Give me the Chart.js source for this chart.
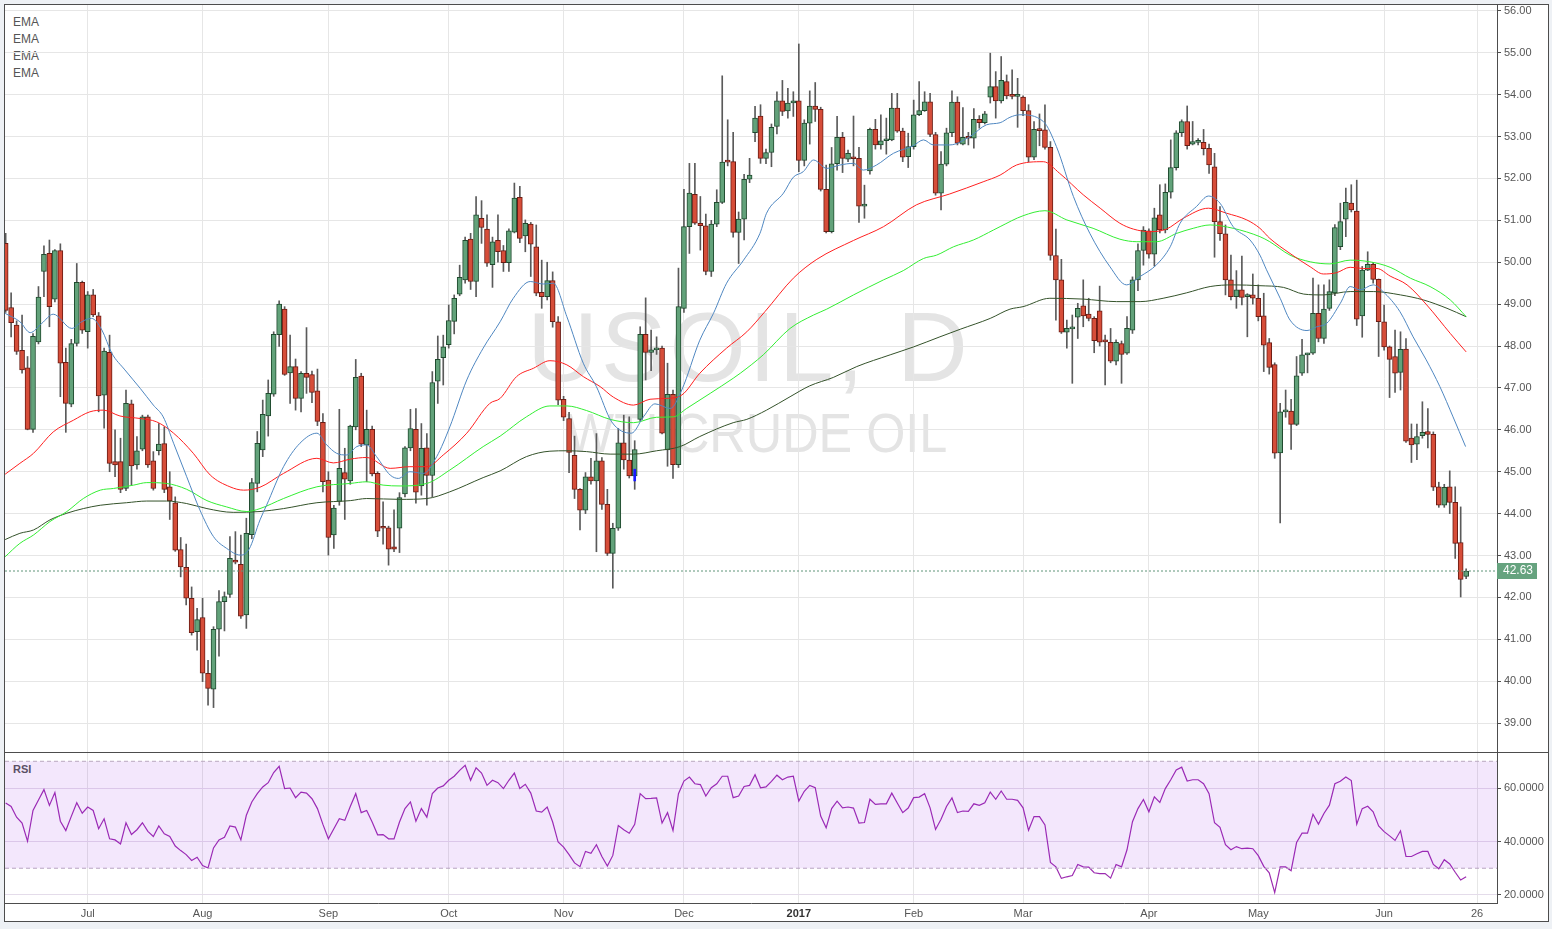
<!DOCTYPE html>
<html>
<head>
<meta charset="utf-8">
<script src="https://cdn.jsdelivr.net/npm/chart.js@4/dist/chart.umd.min.js"></script>
<style>
  html, body { margin: 0; padding: 0; background: #eef1f5; }
  #frame { position: absolute; left: 4px; top: 4px; width: 1545px; height: 918px; box-sizing: border-box; border: 1px solid #4d4d4d; background: #fff; }
  #mainBox { position: absolute; left: 0; top: 0; width: 1543px; height: 747px; }
  #sep { position: absolute; left: 0; top: 747px; width: 1543px; height: 1px; background: #4d4d4d; }
  #rsiBox { position: absolute; left: 0; top: 748px; width: 1543px; height: 168px; }
  .lbl { position: absolute; font: 12px "Liberation Sans", Arial, sans-serif; color: #555; line-height: 17px; }
  .wm { position: absolute; font-family: "Liberation Sans", Arial, sans-serif; color: #e4e4e4; white-space: nowrap; text-align: center; }
  canvas { position: relative; }
</style>
</head>
<body>
<div id="frame">
  <div id="mainBox">
    <div class="wm" style="left:344px; top:292px; width:800px; font-size:98px; line-height:100px; letter-spacing:3px;">USOIL, D</div>
    <div class="wm" style="left:352px; top:398px; width:800px; font-size:56px; line-height:60px; transform:scaleX(0.9);">WTI CRUDE OIL</div>
    <div class="lbl" style="left:8px; top:9px;">EMA<br>EMA<br>EMA<br>EMA</div>
    <canvas id="mainChart"></canvas>
  </div>
  <div id="sep"></div>
  <div id="rsiBox">
    <div class="lbl" style="left:8px; top:8px; font-size:11px; font-weight:bold;">RSI</div>
    <canvas id="rsiChart"></canvas>
  </div>
</div>
<script>
// daily candles, USOIL, 10 Jun 2016 .. 22 Jun 2017 (index = trading day)
const opens = [50.45,48.92,48.50,47.90,47.48,46.01,48.10,49.78,50.21,49.12,
50.28,47.61,46.61,48.06,49.52,48.34,49.22,48.72,46.83,47.85,
45.24,45.24,44.60,46.62,45.16,45.54,46.31,45.26,45.50,45.67,
44.64,44.26,43.14,42.72,41.98,41.18,41.52,40.19,39.81,41.24,
41.90,42.07,42.89,42.79,41.58,43.50,44.72,45.52,46.33,46.85,
48.27,48.88,47.36,47.51,46.75,47.35,47.32,46.93,46.18,44.80,
43.49,44.29,44.98,44.78,46.07,47.28,45.64,46.01,44.96,43.66,
43.66,43.21,43.65,44.47,45.57,46.01,44.66,45.57,44.91,47.16,
47.72,48.03,48.59,49.24,49.58,50.55,49.54,51.05,50.79,49.94,
50.52,50.28,49.99,50.72,51.55,50.63,50.91,50.37,49.28,49.18,
49.56,48.58,46.73,46.27,45.39,44.58,44.08,44.88,44.78,45.26,
44.22,43.05,43.65,45.69,45.28,44.90,46.25,48.28,47.85,47.91,
47.95,45.52,46.85,45.17,48.90,50.85,51.62,50.93,50.87,49.78,
50.91,51.43,52.40,52.40,50.71,51.03,51.98,53.09,53.49,52.48,
52.62,53.24,53.85,53.61,53.80,53.85,52.43,53.32,53.73,53.65,
51.74,50.73,52.35,52.98,52.46,52.51,52.48,51.34,52.18,53.17,
52.80,52.90,52.92,53.68,53.13,52.52,52.76,53.52,53.62,53.83,
53.05,51.65,52.34,53.09,53.82,52.82,52.98,52.96,53.41,53.33,
53.94,54.19,53.85,54.31,53.98,53.96,53.94,53.62,52.51,53.17,
53.16,52.74,50.16,49.58,48.33,48.41,48.69,48.96,48.76,48.66,
48.84,48.12,48.09,47.64,48.06,47.83,48.38,49.58,50.28,50.75,
50.19,51.13,50.77,51.67,52.26,53.09,53.36,52.82,52.86,52.86,
52.72,52.28,50.97,50.68,49.58,49.18,49.34,49.18,49.22,49.14,
48.72,48.08,47.56,45.45,46.43,46.45,46.13,47.35,47.79,47.83,
48.78,48.18,48.90,49.27,50.37,51.03,51.41,51.22,48.72,49.81,
49.95,49.59,48.58,47.98,47.75,47.37,47.93,45.80,45.66,45.86,
45.96,45.89,44.64,44.20,44.64,44.27,43.31,42.50];

const highs = [50.69,49.27,48.60,48.74,47.75,48.30,49.42,50.39,50.53,50.30,
50.44,47.95,48.16,49.97,49.55,49.30,49.35,48.80,47.95,48.26,
46.00,45.80,46.95,46.71,45.84,46.35,46.35,45.48,46.15,46.07,
45.00,44.40,43.43,43.27,42.25,41.74,41.98,40.50,41.30,42.16,
42.13,43.45,43.57,43.49,43.89,44.84,45.96,46.71,47.19,48.34,
49.08,48.94,48.26,47.69,47.39,48.44,47.40,47.45,46.39,45.00,
44.20,46.49,45.56,46.11,47.68,47.35,46.47,46.09,45.00,44.28,
43.70,44.09,44.50,45.60,46.49,46.51,46.15,45.91,47.39,48.24,
48.26,48.98,49.22,49.93,50.60,50.69,51.57,51.47,51.13,50.60,
51.13,50.40,50.80,51.89,51.81,51.01,50.95,50.89,50.05,50.00,
49.77,48.70,46.80,46.42,45.85,44.60,44.98,45.32,45.91,45.34,
44.58,43.77,46.03,46.35,46.31,45.74,48.46,49.15,48.38,48.22,
48.00,47.59,46.95,49.86,51.74,52.36,52.36,51.57,51.15,51.00,
51.73,54.45,53.40,53.10,51.20,52.10,52.48,53.72,53.76,52.70,
53.30,54.07,54.34,54.15,54.07,55.21,53.40,54.09,54.29,53.70,
52.32,52.74,53.48,53.10,52.68,53.49,52.74,51.84,53.20,53.41,
53.52,53.44,54.03,54.03,53.20,53.08,53.87,54.31,54.07,54.03,
53.10,52.64,53.20,54.09,53.95,53.69,53.10,53.67,53.50,53.60,
54.99,54.55,54.91,54.47,54.59,54.39,53.97,53.76,53.36,53.54,
53.76,52.88,50.79,50.07,48.62,48.74,49.02,49.58,49.14,48.70,
49.43,48.26,48.42,48.15,48.12,48.70,49.65,50.44,50.85,50.80,
51.29,51.85,51.87,52.92,53.14,53.40,53.73,53.36,52.95,53.17,
52.82,52.60,51.33,50.89,50.17,49.80,50.15,49.25,49.72,49.46,
49.26,48.18,47.60,46.63,46.95,46.73,47.75,48.16,47.83,49.62,
49.46,49.46,49.58,50.90,51.41,51.77,51.85,51.96,49.90,50.25,
50.00,49.60,48.98,48.00,48.38,48.34,48.18,46.14,46.14,46.67,
46.51,45.95,44.75,44.70,45.02,44.64,44.16,42.68];

const lows = [48.80,48.22,47.80,47.35,46.00,45.94,48.05,49.18,48.46,49.05,
46.79,45.94,46.55,48.00,48.30,47.95,48.70,46.43,46.04,45.00,
44.88,44.50,44.55,44.68,45.06,45.50,45.10,44.56,45.40,44.50,
43.86,43.10,42.49,41.82,41.10,40.74,39.99,39.43,39.37,40.60,
41.20,42.00,42.80,41.50,41.26,43.40,44.52,45.36,45.85,46.80,
47.99,47.30,46.63,46.47,46.43,46.87,46.65,46.10,44.52,43.01,
43.17,44.20,43.86,44.70,46.00,45.60,44.76,44.90,43.45,43.27,
42.77,43.09,43.07,44.40,45.50,44.25,44.44,44.20,44.40,46.63,
47.07,47.95,48.29,49.20,49.50,49.35,49.18,50.45,49.90,49.40,
50.00,49.78,49.78,50.70,50.47,50.25,49.66,49.20,48.90,49.10,
48.45,46.60,46.22,44.98,44.36,43.61,44.00,44.70,43.09,44.10,
43.00,42.22,43.60,45.06,44.85,44.58,46.20,47.19,47.41,47.80,
45.90,45.13,44.84,45.10,48.80,50.21,50.90,50.29,49.70,49.66,
50.85,51.40,52.30,50.60,49.97,50.53,51.90,52.88,52.36,52.35,
52.28,53.06,53.50,53.44,53.48,52.16,52.30,52.82,53.36,51.70,
50.70,50.70,52.20,52.14,52.40,52.30,50.95,51.05,52.10,52.70,
52.70,52.58,52.90,53.10,52.40,52.26,52.70,53.50,53.60,53.00,
51.60,51.25,52.30,53.00,52.80,52.80,52.80,52.72,53.20,53.30,
53.80,53.44,53.80,53.90,53.90,53.22,53.50,52.40,52.45,52.78,
52.70,50.05,48.62,48.30,47.95,47.11,48.18,48.46,48.60,47.84,
48.00,47.07,47.60,47.55,47.11,47.80,48.30,49.32,49.93,50.10,
49.91,50.70,50.70,51.53,52.20,53.00,52.70,52.80,52.80,52.56,
52.12,50.12,50.52,49.22,49.10,48.90,48.98,48.22,49.00,48.60,
47.39,47.33,45.32,43.78,46.30,45.53,46.10,47.30,47.36,47.80,
48.10,48.06,48.85,49.20,50.30,50.61,51.20,48.49,48.21,49.80,
49.50,47.75,47.90,46.77,46.89,46.95,45.70,45.22,45.29,45.80,
45.57,44.55,44.15,44.15,44.00,42.93,42.01,42.45];

const closes = [48.85,48.56,47.87,47.43,46.01,48.23,49.17,50.19,48.94,50.28,
47.59,46.63,48.06,49.52,48.38,49.22,48.74,46.81,47.88,45.20,
45.16,44.58,46.63,45.14,45.50,46.31,45.16,44.60,45.66,44.58,
44.30,43.13,42.73,41.98,41.16,41.47,40.19,39.83,41.24,41.90,
42.02,42.93,42.84,41.55,43.53,44.74,45.68,46.37,46.87,48.28,
49.00,47.32,47.51,46.75,47.35,47.25,46.89,46.20,44.76,43.43,
44.13,45.08,44.82,46.09,47.25,45.66,46.01,44.95,43.58,43.65,
43.15,43.15,44.38,45.57,46.03,44.51,45.56,44.91,47.13,47.68,
47.98,48.61,49.14,49.64,50.52,49.54,51.13,50.83,49.98,50.49,
50.25,49.99,50.75,51.53,50.57,50.93,50.43,49.26,49.18,49.56,
48.58,46.71,46.30,45.46,44.58,44.08,44.88,44.78,45.26,44.22,
43.05,43.65,45.69,45.28,44.90,45.53,48.28,47.85,47.91,47.95,
45.92,46.85,45.17,48.94,50.85,51.65,50.93,50.87,49.78,50.91,
51.43,52.39,52.39,50.71,51.03,51.98,52.08,53.44,52.48,52.62,
53.22,53.85,53.60,53.80,53.85,52.43,53.32,53.73,53.65,51.74,
50.73,52.35,52.98,52.48,52.60,52.47,51.34,51.37,53.17,52.80,
52.90,52.92,53.68,53.13,52.51,52.76,53.52,53.62,53.83,53.05,
51.65,52.34,53.09,53.82,52.84,52.98,52.96,53.41,53.33,53.54,
54.19,53.85,54.34,53.97,53.96,53.97,53.62,52.51,53.17,53.14,
52.74,50.16,49.58,48.33,48.42,48.45,48.90,48.72,48.66,48.13,
48.09,48.10,47.64,48.09,47.80,48.42,49.58,50.28,50.77,50.19,
51.06,50.77,51.67,52.26,53.09,53.36,52.78,52.88,52.86,52.71,
52.32,50.97,50.68,49.58,49.18,49.34,49.16,49.18,49.14,48.70,
48.02,47.49,45.44,46.43,46.45,46.13,47.29,47.79,47.79,48.78,
48.18,48.88,49.30,50.83,50.97,51.43,51.25,48.64,49.81,49.95,
49.59,48.58,47.98,47.68,47.35,47.92,45.73,45.64,45.84,45.94,
45.89,44.63,44.20,44.63,44.27,43.29,42.43,42.63];

// moving averages: [trading-day index, price]
const emaFast = [[-0.1,48.78],[2.6,48.58],[4.5,48.32],[6.6,48.54],[8.7,48.76],[12.1,48.42],[13.9,48.58],[15.7,48.66],[17.6,48.38],[19.4,47.83],[21.8,47.43],[24.6,46.99],[27.0,46.59],[28.8,46.31],[30.7,45.68],[33.1,44.88],[35.5,44.09],[38.0,43.45],[40.4,43.17],[42.9,43.01],[44.5,43.15],[46.5,43.85],[47.7,44.20],[50.8,45.12],[53.8,45.68],[56.9,45.92],[58.7,45.64],[60.5,45.44],[62.3,45.40],[64.2,45.60],[66.0,45.64],[67.8,45.36],[70.3,44.92],[71.8,44.84],[73.9,45.00],[76.4,44.96],[78.8,45.36],[81.2,46.07],[84.3,47.19],[87.3,47.95],[90.4,48.58],[92.8,49.14],[95.9,49.54],[98.3,49.48],[100.1,49.50],[102.6,48.70],[105.6,47.59],[108.0,47.03],[110.8,46.19],[114.4,45.92],[116.6,46.31],[118.7,46.62],[121.5,46.51],[123.6,46.95],[126.9,48.14],[129.4,48.78],[131.8,49.50],[134.9,50.05],[137.9,50.69],[139.1,51.17],[142.2,51.65],[144.0,52.03],[145.8,52.16],[147.7,52.44],[150.1,52.24],[152.5,52.32],[155.0,52.36],[156.8,52.20],[159.2,52.32],[162.3,52.60],[165.9,52.78],[167.8,52.92],[169.6,52.80],[172.6,52.80],[176.3,53.00],[179.3,53.28],[181.8,53.33],[183.6,53.46],[185.4,53.52],[189.7,53.36],[192.1,52.76],[195.2,51.57],[198.2,50.69],[201.9,49.89],[204.9,49.46],[207.4,49.66],[210.4,49.94],[212.9,50.37],[214.7,50.93],[217.7,51.33],[219.9,51.58],[222.0,51.41],[224.4,50.85],[227.5,50.53],[229.3,50.17],[230.5,49.82],[233.0,49.14],[234.8,48.62],[237.9,48.37],[239.7,48.46],[241.5,48.54],[244.0,49.02],[245.8,49.42],[247.6,49.34],[250.0,49.46],[251.8,49.30],[254.9,48.82],[257.3,48.22],[259.7,47.67],[262.2,47.03],[264.6,46.31],[266.9,45.60]];

const emaMid = [[-0.1,44.94],[2.6,45.20],[5.1,45.44],[8.7,45.95],[12.4,46.23],[15.4,46.43],[17.9,46.47],[20.9,46.33],[24.6,46.27],[27.6,46.19],[30.7,45.92],[34.3,45.44],[37.4,44.92],[41.0,44.64],[43.5,44.56],[46.5,44.63],[50.8,44.96],[56.9,45.32],[59.9,45.21],[63.0,45.30],[66.0,45.34],[70.3,45.08],[73.9,45.12],[77.0,45.12],[80.0,45.40],[84.3,45.92],[88.5,46.63],[90.4,46.75],[93.4,47.27],[96.5,47.47],[99.5,47.65],[102.6,47.55],[105.6,47.27],[108.7,47.03],[111.1,46.78],[114.8,46.59],[117.8,46.73],[120.8,46.75],[123.6,46.83],[126.9,47.35],[131.8,47.95],[135.5,48.34],[138.8,48.82],[144.0,49.62],[148.3,50.07],[155.0,50.52],[160.5,50.85],[166.5,51.37],[172.6,51.63],[178.7,51.92],[181.8,52.08],[184.8,52.32],[189.7,52.40],[192.7,52.12],[197.0,51.61],[200.1,51.29],[203.7,50.93],[206.2,50.79],[209.2,50.73],[212.2,50.79],[215.3,51.05],[219.9,51.29],[223.2,51.17],[226.9,51.01],[229.3,50.81],[231.1,50.57],[234.8,50.21],[238.5,49.89],[240.9,49.72],[243.3,49.75],[245.8,49.88],[248.2,49.85],[250.7,49.85],[253.1,49.67],[256.2,49.46],[259.8,48.98],[264.1,48.30],[267.0,47.86]];

const emaSlow = [[-0.1,42.97],[2.6,43.29],[5.1,43.49],[8.1,43.81],[11.2,44.05],[14.2,44.36],[17.3,44.56],[19.7,44.60],[23.4,44.68],[25.8,44.74],[29.4,44.72],[33.1,44.58],[36.8,44.31],[40.4,44.16],[44.1,44.05],[46.5,44.12],[50.8,44.36],[56.9,44.64],[63.0,44.72],[66.0,44.76],[69.0,44.68],[72.1,44.66],[77.0,44.72],[81.2,45.04],[87.3,45.60],[90.4,45.85],[95.2,46.31],[99.5,46.57],[102.6,46.57],[106.2,46.46],[110.5,46.25],[114.8,46.17],[119.0,46.30],[122.1,46.31],[124.5,46.51],[128.8,46.87],[133.0,47.23],[134.3,47.35],[138.5,47.79],[143.4,48.42],[147.7,48.74],[150.1,48.88],[155.0,49.22],[160.5,49.58],[164.1,49.80],[167.8,50.09],[170.2,50.17],[173.3,50.37],[176.9,50.53],[180.6,50.77],[181.8,50.85],[186.0,51.11],[190.0,51.23],[194.0,51.01],[198.8,50.81],[203.7,50.55],[206.8,50.49],[210.4,50.49],[214.1,50.69],[217.1,50.81],[220.2,50.89],[224.4,50.81],[229.3,50.61],[231.1,50.49],[234.8,50.17],[238.5,50.01],[242.1,49.96],[245.8,50.05],[249.4,50.01],[253.1,49.88],[256.8,49.62],[260.4,49.42],[264.1,49.10],[267.0,48.70]];

const emaLong = [[-0.1,43.38],[2.6,43.53],[5.1,43.61],[8.1,43.85],[11.2,44.01],[14.2,44.12],[17.3,44.20],[22.1,44.26],[25.8,44.30],[29.4,44.30],[33.1,44.24],[36.8,44.12],[41.6,44.03],[46.5,44.05],[50.8,44.12],[56.9,44.26],[63.0,44.31],[66.0,44.36],[72.1,44.34],[77.0,44.36],[81.2,44.52],[87.3,44.86],[90.4,45.02],[95.2,45.36],[99.5,45.49],[102.6,45.50],[106.2,45.48],[110.5,45.42],[114.8,45.42],[119.0,45.50],[123.3,45.60],[126.9,45.84],[133.0,46.17],[135.5,46.25],[139.1,46.47],[143.4,46.79],[147.0,47.05],[151.3,47.25],[155.6,47.51],[161.7,47.79],[166.0,47.98],[170.8,48.22],[174.5,48.40],[180.0,48.66],[183.6,48.88],[186.0,48.94],[190.9,49.14],[197.0,49.12],[203.1,49.06],[207.4,49.06],[211.6,49.14],[215.9,49.27],[220.2,49.42],[224.4,49.46],[229.3,49.44],[233.6,49.40],[237.3,49.24],[240.9,49.22],[245.8,49.30],[250.1,49.30],[255.0,49.22],[259.2,49.10],[263.5,48.90],[267.0,48.70]];

const rsi = [54.4,53.1,49.1,46.9,40.1,51.6,55.5,59.4,53.5,58.3,
47.6,44.1,49.4,54.5,50.6,52.9,51.6,44.8,48.5,41.0,
40.6,39.1,47.0,42.6,44.4,47.0,43.8,41.9,45.8,42.9,
41.9,38.3,36.6,35.1,32.9,34.1,31.0,30.1,37.6,40.6,
41.6,45.8,45.4,40.6,49.8,54.8,57.9,60.4,62.0,65.8,
68.1,59.8,60.0,56.4,58.5,58.1,56.0,52.3,46.4,41.0,
44.8,48.5,47.9,53.1,57.9,50.8,51.6,47.3,42.5,42.6,
41.0,41.0,47.3,52.3,54.8,47.6,52.3,49.1,57.9,60.0,
60.8,62.9,64.4,66.6,68.5,62.9,67.6,65.6,61.0,62.9,
62.0,59.8,62.9,65.6,59.8,61.4,58.1,51.4,51.0,52.9,
47.3,39.8,37.9,35.1,32.0,30.6,36.3,35.6,38.8,34.4,
30.8,34.8,46.0,44.4,43.1,46.4,57.9,56.0,56.1,56.3,
46.9,50.8,44.1,57.9,62.6,64.1,61.6,61.3,57.0,60.1,
61.6,64.4,64.4,56.4,57.0,60.6,61.0,65.0,60.1,60.4,
62.5,64.8,63.1,64.1,64.4,55.1,58.8,61.0,60.1,49.5,
45.1,52.3,55.1,52.6,52.9,52.5,46.9,47.1,55.8,53.9,
54.1,54.1,58.1,54.4,50.8,52.5,56.4,56.6,57.9,52.6,
44.5,48.3,53.1,56.3,50.8,51.4,51.3,54.1,53.5,54.5,
58.5,55.8,58.9,55.8,55.8,55.4,52.6,44.2,49.3,49.3,
46.2,32.2,30.5,26.2,26.8,27.3,31.4,30.5,30.4,28.3,
28.0,28.0,26.3,31.4,30.5,36.9,47.4,52.3,55.7,51.1,
56.7,54.6,59.8,63.1,66.8,67.8,62.6,63.1,63.1,61.6,
57.9,47.0,45.3,38.8,36.9,38.1,37.3,37.5,37.3,34.7,
30.7,28.3,20.9,30.5,30.5,29.1,39.6,43.1,43.1,50.2,
46.5,50.5,53.6,61.6,62.5,64.1,62.8,46.5,52.3,53.2,
51.1,45.8,43.7,42.1,40.4,44.0,34.4,34.4,35.4,36.3,
36.3,31.4,29.8,33.2,31.6,28.5,25.6,26.8];

const monthTicks  = [15, 36, 59, 81, 102, 124, 145, 166, 186, 209, 229, 252, 269];
const monthLabels = ['Jul','Aug','Sep','Oct','Nov','Dec','2017','Feb','Mar','Apr','May','Jun','26'];
const priceTicks  = [39,40,41,42,43,44,45,46,47,48,49,50,51,52,53,54,55,56];
const rsiTicks    = [20, 40, 60];
const rsiBand     = [30, 70];

const X_MIN = -0.12, X_MAX = 272.64;
const FONT = '"Liberation Sans", Arial, sans-serif';
Chart.defaults.font.family = FONT;
Chart.defaults.font.size = 11;
Chart.defaults.color = '#555';

const up = closes.map((c, i) => c >= opens[i]);
const lastClose = closes[closes.length - 1];
const pairs = arr => arr.map(([x, y]) => ({x, y}));

function noPad(s) { s.paddingTop = 0; s.paddingBottom = 0; s.paddingLeft = 0; s.paddingRight = 0; }

const xScale = (showTicks) => ({
  type: 'linear', min: X_MIN, max: X_MAX, offset: false,
  afterBuildTicks: s => { s.ticks = monthTicks.map(v => ({value: v})); },
  afterFit: s => { s.height = showTicks ? 18 : 0; noPad(s); },
  grid: { color: '#e6e6e6', drawTicks: false, offset: false },
  border: { display: showTicks, color: '#4d4d4d' },
  ticks: {
    display: showTicks, autoSkip: false, maxRotation: 0, padding: 4,
    callback: (v, i) => monthLabels[i],
    color: ctx => (ctx.tick && ctx.tick.value === 145) ? '#333' : '#555',
    font: ctx => ({ size: 11, weight: (ctx.tick && ctx.tick.value === 145) ? 'bold' : 'normal' })
  }
});

const lastPriceTag = {
  id: 'lastPriceTag',
  afterDraw(chart) {
    const {ctx, chartArea, scales} = chart;
    const y = scales.y.getPixelForValue(lastClose);
    ctx.save();
    ctx.fillStyle = '#66a37f';
    ctx.fillRect(chartArea.right, Math.round(y) - 8, 40, 16);
    ctx.fillStyle = '#fff';
    ctx.font = '12px ' + FONT;
    ctx.textBaseline = 'middle';
    ctx.fillText(lastClose.toFixed(2), chartArea.right + 6, Math.round(y));
    ctx.restore();
  }
};

new Chart(document.getElementById('mainChart'), {
  type: 'bar',
  data: {
    datasets: [
      { type: 'line', label: 'EMA fast', data: pairs(emaFast), borderColor: '#4f87c1', borderWidth: 1, pointRadius: 0, cubicInterpolationMode: 'monotone', order: 1 },
      { type: 'line', label: 'EMA mid', data: pairs(emaMid), borderColor: '#ff2020', borderWidth: 1, pointRadius: 0, cubicInterpolationMode: 'monotone', order: 1 },
      { type: 'line', label: 'EMA slow', data: pairs(emaSlow), borderColor: '#33ee33', borderWidth: 1, pointRadius: 0, cubicInterpolationMode: 'monotone', order: 1 },
      { type: 'line', label: 'EMA long', data: pairs(emaLong), borderColor: '#34522a', borderWidth: 1, pointRadius: 0, cubicInterpolationMode: 'monotone', order: 1 },
      { type: 'line', label: 'last', data: [{x: X_MIN, y: lastClose}, {x: X_MAX, y: lastClose}], borderColor: '#5f9478', borderWidth: 1, borderDash: [2, 2], pointRadius: 0, order: 0 },
      { label: 'wicks', data: lows.map((l, i) => ({x: i, y: [l, highs[i]]})), backgroundColor: '#5a5a5a', barThickness: 1, grouped: false, order: 4 },
      { label: 'bodies', data: opens.map((o, i) => ({x: i, y: [o, closes[i]]})),
        backgroundColor: up.map(u => u ? '#62a27a' : '#d64d39'),
        borderColor: up.map(u => u ? '#1f4a2e' : '#6b1c14'),
        borderWidth: 1, borderSkipped: false, barThickness: 5, minBarLength: 2, grouped: false, order: 3 },
      { label: 'marker', data: [{x: 115, y: [44.78, 45.06]}], backgroundColor: '#1a1aff', barThickness: 2, grouped: false, order: 2 }
    ]
  },
  options: {
    responsive: true, maintainAspectRatio: false, animation: false,
    layout: { padding: 0 },
    plugins: { legend: { display: false }, tooltip: { enabled: false } },
    scales: {
      x: xScale(false),
      y: {
        position: 'right', min: 38.31, max: 56.14,
        afterBuildTicks: s => { s.ticks = priceTicks.map(v => ({value: v})); },
        afterFit: s => { s.width = 51; noPad(s); },
        grid: { color: '#e6e6e6', tickColor: '#4d4d4d', tickLength: 4 },
        border: { color: '#4d4d4d' },
        ticks: { padding: 3, callback: v => v.toFixed(2) }
      }
    }
  },
  plugins: [lastPriceTag]
});

new Chart(document.getElementById('rsiChart'), {
  type: 'line',
  data: {
    datasets: [
      { label: 'upper', data: [{x: X_MIN, y: rsiBand[1]}, {x: X_MAX, y: rsiBand[1]}], borderColor: '#b9a9c0', borderWidth: 1, borderDash: [4, 3], pointRadius: 0, fill: '+1', backgroundColor: 'rgba(149,40,230,0.11)' },
      { label: 'lower', data: [{x: X_MIN, y: rsiBand[0]}, {x: X_MAX, y: rsiBand[0]}], borderColor: '#b9a9c0', borderWidth: 1, borderDash: [4, 3], pointRadius: 0, fill: false },
      { label: 'RSI', data: rsi.map((v, i) => ({x: i, y: v})), borderColor: '#9c2bb0', borderWidth: 1.2, pointRadius: 0, fill: false }
    ]
  },
  options: {
    responsive: true, maintainAspectRatio: false, animation: false,
    layout: { padding: 0 },
    plugins: { legend: { display: false }, tooltip: { enabled: false } },
    scales: {
      x: xScale(true),
      y: {
        position: 'right', min: 17.0, max: 73.1,
        afterBuildTicks: s => { s.ticks = rsiTicks.map(v => ({value: v})); },
        afterFit: s => { s.width = 51; noPad(s); },
        grid: { color: '#e4dcea', tickColor: '#4d4d4d', tickLength: 4 },
        border: { color: '#4d4d4d' },
        ticks: { padding: 3, callback: v => v.toFixed(4) }
      }
    }
  }
});
</script>
</body>
</html>
